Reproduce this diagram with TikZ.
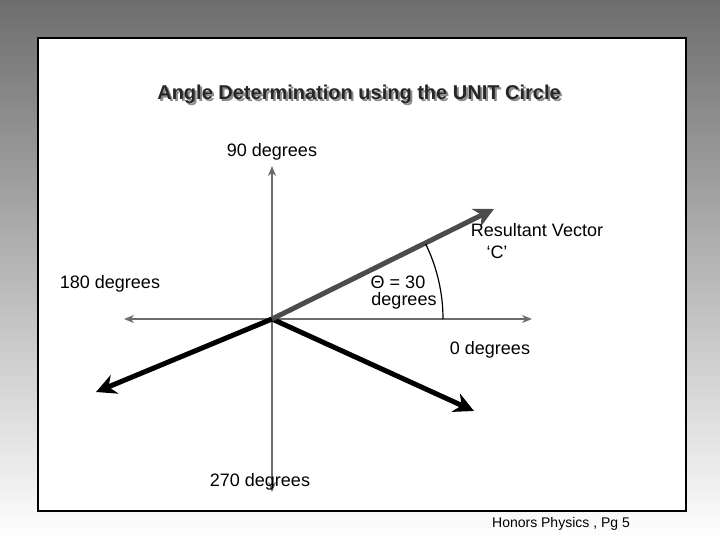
\documentclass[tikz,border=0pt]{standalone}
\usepackage{fontspec}
\setmainfont{Liberation Sans}
\usetikzlibrary{arrows.meta}
\begin{document}
\begin{tikzpicture}[x=1pt,y=-1pt,
  axis/.style={draw=gray!85!black,line width=2.2pt,-{Stealth[length=10pt,width=8pt]}},
  vec/.style={line width=5pt,-{Stealth[length=20pt,width=20pt]}},
  lbl/.style={font=\fontsize{18}{19}\selectfont,align=center,inner sep=1pt}]
\useasboundingbox (0,0) rectangle (720,540);
\shade[top color=black!57,bottom color=white] (0,0) rectangle (720,540);
\node[draw=black,line width=2pt,fill=white,minimum width=648pt,minimum height=473pt,anchor=north west] (frame) at (37,37) {};
\node[font=\bfseries\fontsize{20}{22}\selectfont,text=black!45] (tsh) at (361,96) {Angle Determination using the UNIT Circle};
\node[font=\bfseries\fontsize{20}{22}\selectfont,text=black!85] (title) at (359,94) {Angle Determination using the UNIT Circle};
\coordinate (O) at (272,319);
\coordinate (N) at (272,166);
\coordinate (S) at (272,492);
\coordinate (W) at (124,319);
\coordinate (E) at (532,319);
\coordinate (R) at (494,209);
\coordinate (A) at (96,392);
\coordinate (B) at (474,411);
\draw[axis] (O) -- (N);
\draw[axis] (O) -- (S);
\draw[axis] (O) -- (W);
\draw[axis] (O) -- (E);
\draw[vec,black] (O) -- (A);
\draw[vec,black] (O) -- (B);
\draw[vec,draw=black!70,fill=black!70] (O) -- (R);
\draw[line width=1.2pt] (443,319) arc[start angle=0,end angle=-26,radius=171];
\node[lbl] (n90) at (272,152) {90 degrees};
\node[lbl] (res) at (537,230) {Resultant Vector};
\node[lbl] (c) at (497,252) {‘C’};
\node[lbl] (n180) at (110,284) {180 degrees};
\node[lbl] (th) at (398,282) {Θ = 30};
\node[lbl] (thd) at (404,301) {degrees};
\node[lbl] (n0) at (490,350) {0 degrees};
\node[lbl] (n270) at (260,482) {270 degrees};
\node[font=\fontsize{14}{16}\selectfont] (pg) at (561,524) {Honors Physics , Pg 5};
\end{tikzpicture}
\end{document}
